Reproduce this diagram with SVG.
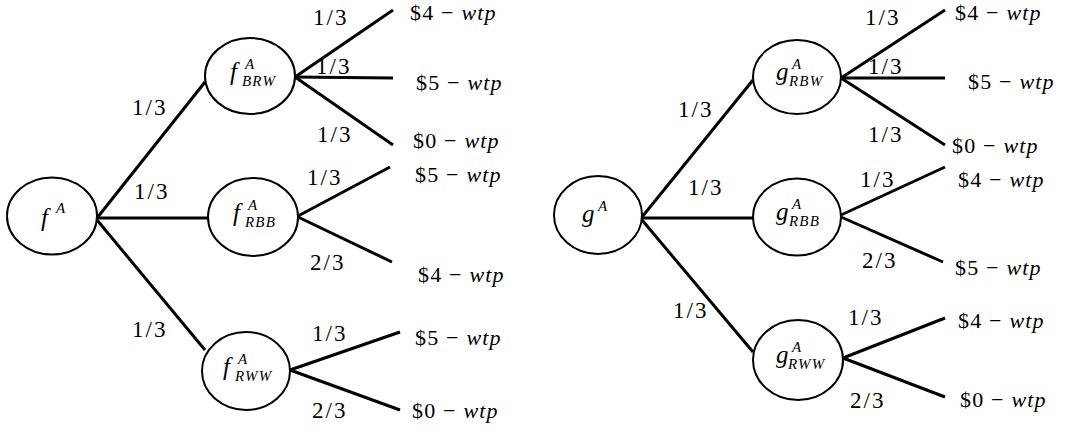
<svg xmlns="http://www.w3.org/2000/svg" width="1072" height="430" viewBox="0 0 1072 430">
<style>
  text { font-family: "Liberation Serif", "Times New Roman", serif; fill: #000; }
  .p { font-size: 23px; letter-spacing: 2px; }
  .o { font-size: 22px; letter-spacing: 1.2px; }
  .i { font-style: italic; }
  .v { font-size: 25px; font-style: italic; }
  .s { font-size: 15px; font-style: italic; letter-spacing: 1.2px; }
  .n { fill: #fff; stroke: #000; stroke-width: 2; }
  #connectors line { stroke: #000; stroke-width: 3; stroke-linecap: butt; }
</style>
<rect width="1072" height="430" fill="#fff"/>
<g id="connectors">
  <line x1="97" y1="218" x2="205" y2="82"/>
  <line x1="97" y1="218" x2="208" y2="218"/>
  <line x1="97" y1="220" x2="205" y2="350"/>
  <line x1="295" y1="77" x2="393" y2="10"/>
  <line x1="295" y1="77" x2="393" y2="78"/>
  <line x1="295" y1="77" x2="393" y2="145"/>
  <line x1="298" y1="216" x2="390" y2="167"/>
  <line x1="298" y1="217" x2="392" y2="262"/>
  <line x1="290" y1="370" x2="400" y2="332"/>
  <line x1="290" y1="370" x2="400" y2="410"/>
  <line x1="642" y1="217" x2="753" y2="80"/>
  <line x1="642" y1="218" x2="753" y2="218"/>
  <line x1="642" y1="220" x2="753" y2="352"/>
  <line x1="841" y1="78" x2="945" y2="10"/>
  <line x1="841" y1="78" x2="945" y2="78"/>
  <line x1="841" y1="78" x2="945" y2="145"/>
  <line x1="841" y1="215" x2="945" y2="167"/>
  <line x1="841" y1="217" x2="943" y2="262"/>
  <line x1="843" y1="358" x2="945" y2="318"/>
  <line x1="843" y1="358" x2="945" y2="397"/>
</g>
<g id="edge-labels">
  <text class="p" x="132" y="115">1/3</text>
  <text class="p" x="134" y="199">1/3</text>
  <text class="p" x="132" y="337">1/3</text>
  <text class="p" x="313" y="25">1/3</text>
  <text class="p" x="316" y="74">1/3</text>
  <text class="p" x="317" y="142">1/3</text>
  <text class="p" x="307" y="185">1/3</text>
  <text class="p" x="310" y="270">2/3</text>
  <text class="p" x="312" y="341">1/3</text>
  <text class="p" x="312" y="418">2/3</text>
  <text class="p" x="678" y="117">1/3</text>
  <text class="p" x="688" y="195">1/3</text>
  <text class="p" x="673" y="318">1/3</text>
  <text class="p" x="865" y="25">1/3</text>
  <text class="p" x="868" y="74">1/3</text>
  <text class="p" x="868" y="142">1/3</text>
  <text class="p" x="860" y="187">1/3</text>
  <text class="p" x="862" y="268">2/3</text>
  <text class="p" x="848" y="325">1/3</text>
  <text class="p" x="850" y="408">2/3</text>
</g>
<g id="outcomes">
  <text class="o" x="410" y="20">$4 − <tspan class="i">wtp</tspan></text>
  <text class="o" x="416" y="90">$5 − <tspan class="i">wtp</tspan></text>
  <text class="o" x="413" y="148">$0 − <tspan class="i">wtp</tspan></text>
  <text class="o" x="415" y="182">$5 − <tspan class="i">wtp</tspan></text>
  <text class="o" x="418" y="282">$4 − <tspan class="i">wtp</tspan></text>
  <text class="o" x="415" y="345">$5 − <tspan class="i">wtp</tspan></text>
  <text class="o" x="412" y="418">$0 − <tspan class="i">wtp</tspan></text>
  <text class="o" x="955" y="20">$4 − <tspan class="i">wtp</tspan></text>
  <text class="o" x="968" y="89">$5 − <tspan class="i">wtp</tspan></text>
  <text class="o" x="952" y="153">$0 − <tspan class="i">wtp</tspan></text>
  <text class="o" x="958" y="187">$4 − <tspan class="i">wtp</tspan></text>
  <text class="o" x="955" y="275">$5 − <tspan class="i">wtp</tspan></text>
  <text class="o" x="958" y="328">$4 − <tspan class="i">wtp</tspan></text>
  <text class="o" x="960" y="407">$0 − <tspan class="i">wtp</tspan></text>
</g>
<g id="node-fA">
  <ellipse class="n" cx="52" cy="216" rx="45" ry="38.5"/>
  <text class="v" x="41" y="226">f<tspan class="s" x="56" y="213">A</tspan></text>
</g>
<g id="node-fBRW">
  <ellipse class="n" cx="250" cy="76" rx="45" ry="38"/>
  <text class="v" x="230" y="80">f<tspan class="s" x="245" y="69">A</tspan><tspan class="s" x="242" y="86">BRW</tspan></text>
</g>
<g id="node-fRBB">
  <ellipse class="n" cx="253" cy="217" rx="45" ry="39"/>
  <text class="v" x="233" y="221">f<tspan class="s" x="248" y="210">A</tspan><tspan class="s" x="245" y="227">RBB</tspan></text>
</g>
<g id="node-fRWW">
  <ellipse class="n" cx="246" cy="371" rx="44" ry="39"/>
  <text class="v" x="223" y="375">f<tspan class="s" x="238" y="364">A</tspan><tspan class="s" x="235" y="381">RWW</tspan></text>
</g>
<g id="node-gA">
  <ellipse class="n" cx="598" cy="215" rx="44" ry="39"/>
  <text class="v" x="582" y="222">g<tspan class="s" x="598" y="211">A</tspan></text>
</g>
<g id="node-gRBW">
  <ellipse class="n" cx="797" cy="77" rx="44" ry="37"/>
  <text class="v" x="776" y="80">g<tspan class="s" x="792" y="69">A</tspan><tspan class="s" x="789" y="86">RBW</tspan></text>
</g>
<g id="node-gRBB">
  <ellipse class="n" cx="797" cy="217" rx="44" ry="38.5"/>
  <text class="v" x="776" y="220">g<tspan class="s" x="792" y="209">A</tspan><tspan class="s" x="789" y="226">RBB</tspan></text>
</g>
<g id="node-gRWW">
  <ellipse class="n" cx="798" cy="360" rx="45" ry="40"/>
  <text class="v" x="776" y="363">g<tspan class="s" x="792" y="352">A</tspan><tspan class="s" x="788" y="369">RWW</tspan></text>
</g>
</svg>
